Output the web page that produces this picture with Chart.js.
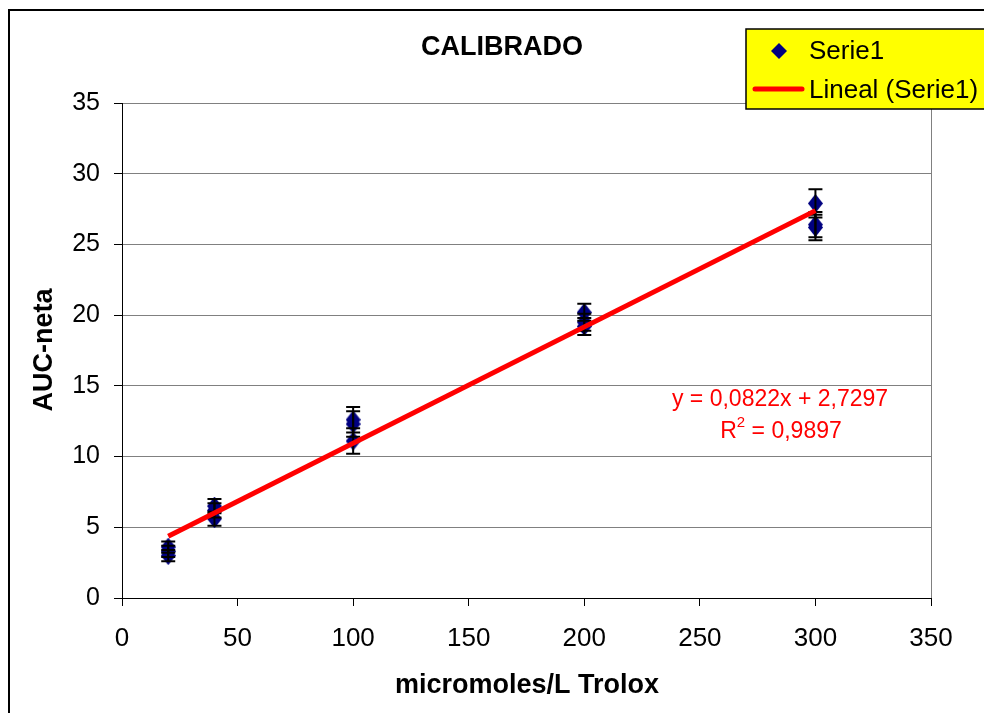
<!DOCTYPE html>
<html>
<head>
<meta charset="utf-8">
<script src="https://cdn.jsdelivr.net/npm/chart.js@4.4.1/dist/chart.umd.min.js"></script>
<style>
  html, body { margin: 0; padding: 0; background: #fff; overflow: hidden; }
  #wrap { position: relative; width: 984px; height: 713px; }
  #frame { position: absolute; left: 8px; top: 9px; width: 1100px; height: 800px; border: 2px solid #000; box-sizing: border-box; pointer-events: none; }
  canvas { position: absolute; left: 0; top: 0; }
</style>
</head>
<body>
<div id="wrap">
  <canvas id="c" width="984" height="713"></canvas>
  <div id="frame"></div>
</div>
<script>
// ---- data ----
const xValues   = [20, 20, 20, 40, 40, 40, 100, 100, 100, 200, 200, 200, 300, 300, 300];
const yValues   = [3.6, 3.3, 3.0, 6.5, 6.2, 5.6, 12.6, 12.3, 11.1, 20.2, 19.5, 19.2, 27.9, 26.4, 26.2];
const errValues = [0.4, 0.4, 0.4, 0.5, 0.5, 0.5, 0.9, 0.9, 0.9, 0.6, 0.6, 0.6, 1.0, 0.9, 0.9];
const trendX = [20, 300];
const trendY = [4.37, 27.39];
const xTicks = [0, 50, 100, 150, 200, 250, 300, 350];
const yTicks = [0, 5, 10, 15, 20, 25, 30, 35];
const chartTitle = 'CALIBRADO';
const xTitle = 'micromoles/L Trolox';
const yTitle = 'AUC-neta';
const seriesName = 'Serie1';
const trendName = 'Lineal (Serie1)';
const eqLine1 = 'y = 0,0822x + 2,7297';
const eqLine2R = 'R';
const eqLine2Sup = '2';
const eqLine2Rest = ' = 0,9897';

const FONT = '"Liberation Sans", Arial, sans-serif';

const scatterPoints = xValues.map((x, i) => ({ x: x, y: yValues[i] }));
const trendPoints = trendX.map((x, i) => ({ x: x, y: trendY[i] }));

// elongated diamond marker
const marker = document.createElement('canvas');
marker.width = 15; marker.height = 19;
(function () {
  const m = marker.getContext('2d');
  m.fillStyle = '#000080';
  m.beginPath();
  m.moveTo(7.5, 0); m.lineTo(15, 9.5); m.lineTo(7.5, 19); m.lineTo(0, 9.5);
  m.closePath(); m.fill();
})();

const errorBarPlugin = {
  id: 'errorBars',
  afterDatasetDraw(chart, args) {
    if (args.index !== 1) return;
    const ctx = chart.ctx;
    const xs = chart.scales.x, ys = chart.scales.y;
    ctx.save();
    ctx.strokeStyle = '#000';
    ctx.lineWidth = 2;
    for (let i = 0; i < xValues.length; i++) {
      const px = xs.getPixelForValue(xValues[i]);
      const pt = ys.getPixelForValue(yValues[i] + errValues[i]);
      const pb = ys.getPixelForValue(yValues[i] - errValues[i]);
      ctx.beginPath();
      ctx.moveTo(px, pt); ctx.lineTo(px, pb);
      ctx.moveTo(px - 7, pt); ctx.lineTo(px + 7, pt);
      ctx.moveTo(px - 7, pb); ctx.lineTo(px + 7, pb);
      ctx.stroke();
    }
    ctx.restore();
  }
};

const decorPlugin = {
  id: 'decor',
  afterDraw(chart) {
    const ctx = chart.ctx;
    const a = chart.chartArea;
    ctx.save();
    // right border of plot area
    ctx.strokeStyle = '#808080';
    ctx.lineWidth = 1;
    ctx.beginPath();
    ctx.moveTo(Math.round(a.right) + 0.5, a.top);
    ctx.lineTo(Math.round(a.right) + 0.5, a.bottom);
    ctx.stroke();

    // title
    ctx.fillStyle = '#000';
    ctx.font = 'bold 27px ' + FONT;
    ctx.textAlign = 'center';
    ctx.textBaseline = 'middle';
    ctx.fillText(chartTitle, 502, 48);

    // axis titles
    ctx.fillText(xTitle, 527, 686);
    ctx.save();
    ctx.translate(45, 350);
    ctx.rotate(-Math.PI / 2);
    ctx.fillText(yTitle, 0, 0);
    ctx.restore();

    // equation text
    ctx.fillStyle = '#FF0000';
    ctx.font = '23px ' + FONT;
    ctx.textAlign = 'center';
    ctx.textBaseline = 'alphabetic';
    ctx.fillText(eqLine1, 780, 406);
    const wR = ctx.measureText(eqLine2R).width;
    ctx.font = '15px ' + FONT;
    const wS = ctx.measureText(eqLine2Sup).width;
    ctx.font = '23px ' + FONT;
    const wRest = ctx.measureText(eqLine2Rest).width;
    const total = wR + wS + wRest;
    let sx = 781 - total / 2;
    ctx.textAlign = 'left';
    ctx.fillText(eqLine2R, sx, 438);
    ctx.font = '15px ' + FONT;
    ctx.fillText(eqLine2Sup, sx + wR, 427);
    ctx.font = '23px ' + FONT;
    ctx.fillText(eqLine2Rest, sx + wR + wS, 438);

    // legend
    ctx.fillStyle = '#FFFF00';
    ctx.fillRect(746, 29, 260, 80);
    ctx.strokeStyle = '#000';
    ctx.lineWidth = 1.5;
    ctx.strokeRect(746, 29, 260, 80);
    // diamond
    ctx.fillStyle = '#000080';
    ctx.beginPath();
    ctx.moveTo(779 - 8, 51); ctx.lineTo(779, 51 - 8); ctx.lineTo(779 + 8, 51); ctx.lineTo(779, 51 + 8);
    ctx.closePath(); ctx.fill();
    // red line
    ctx.strokeStyle = '#FF0000';
    ctx.lineWidth = 5;
    ctx.lineCap = 'round';
    ctx.beginPath();
    ctx.moveTo(755, 89); ctx.lineTo(802, 89);
    ctx.stroke();
    ctx.fillStyle = '#000';
    ctx.font = '26px ' + FONT;
    ctx.textAlign = 'left';
    ctx.textBaseline = 'middle';
    ctx.fillText(seriesName, 809, 52);
    ctx.fillText(trendName, 809, 91);
    ctx.restore();
  }
};

new Chart(document.getElementById('c'), {
  type: 'scatter',
  data: {
    datasets: [
      {
        type: 'line',
        label: trendName,
        data: trendPoints,
        borderColor: '#FF0000',
        borderWidth: 5,
        pointRadius: 0,
        fill: false,
        tension: 0
      },
      {
        label: seriesName,
        data: scatterPoints,
        pointStyle: marker,
        pointRadius: 9,
        backgroundColor: '#000080',
        borderColor: '#000080',
        borderWidth: 0
      }
    ]
  },
  options: {
    responsive: false,
    animation: false,
    devicePixelRatio: 1,
    layout: { padding: { left: 0, top: 103, right: 53, bottom: 0 } },
    plugins: {
      legend: { display: false },
      title: { display: false },
      tooltip: { enabled: false }
    },
    scales: {
      x: {
        type: 'linear',
        min: 0, max: 350,
        afterFit(s) { s.height = 115; },
        afterBuildTicks(s) { s.ticks = xTicks.map(v => ({ value: v })); },
        border: { color: '#000', width: 1 },
        grid: { drawOnChartArea: false, drawTicks: true, tickLength: 8, tickColor: '#000', tickWidth: 1 },
        ticks: { color: '#000', font: { family: FONT, size: 26 }, padding: 17, maxRotation: 0 }
      },
      y: {
        type: 'linear',
        min: 0, max: 35,
        afterFit(s) { s.width = 122; },
        afterBuildTicks(s) { s.ticks = yTicks.map(v => ({ value: v })); },
        border: { color: '#000', width: 1 },
        grid: { color: '#808080', lineWidth: 1, drawTicks: true, tickLength: 8, tickColor: '#000', tickWidth: 1 },
        ticks: { color: '#000', font: { family: FONT, size: 25 }, padding: 14 }
      }
    }
  },
  plugins: [errorBarPlugin, decorPlugin]
});
</script>
</body>
</html>
